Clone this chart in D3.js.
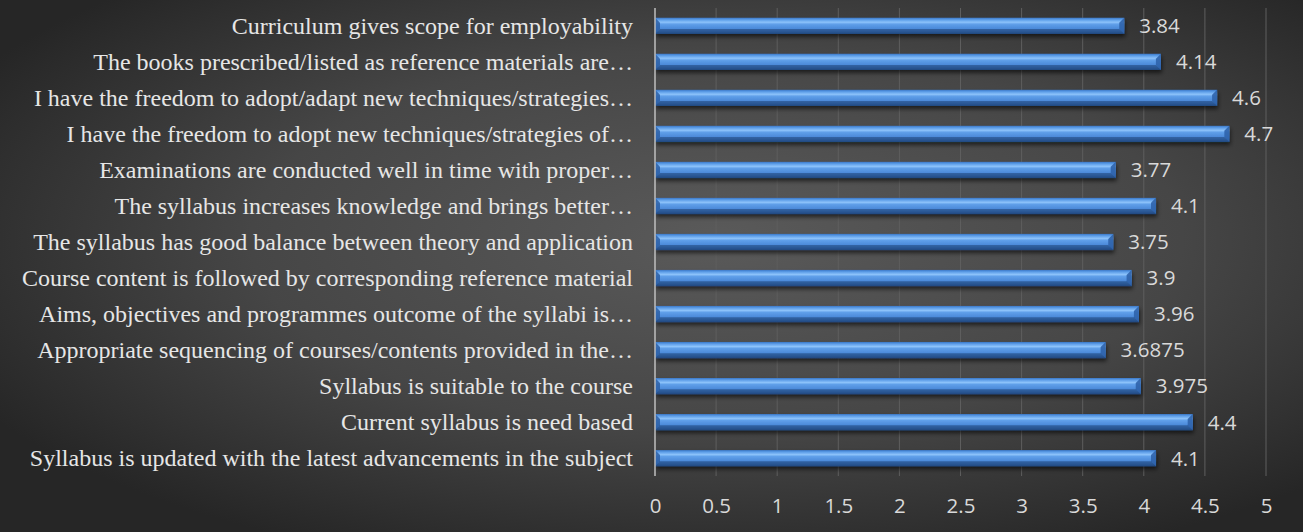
<!DOCTYPE html>
<html>
<head>
<meta charset="utf-8">
<script src="https://cdn.jsdelivr.net/npm/d3@7"></script>
<style>
  html, body { margin: 0; padding: 0; background: #2a2a2a; }
  svg { display: block; }
</style>
</head>
<body>
<div id="chart"></div>
<script>
const categories = [
  "Curriculum gives scope for employability",
  "The books prescribed/listed as reference materials are…",
  "I have the freedom to adopt/adapt new techniques/strategies…",
  "I have the freedom to adopt new techniques/strategies of…",
  "Examinations are conducted well in time with proper…",
  "The syllabus increases knowledge and brings better…",
  "The syllabus has good balance between theory and application",
  "Course content is followed by corresponding reference material",
  "Aims, objectives and programmes outcome of the syllabi is…",
  "Appropriate sequencing of courses/contents provided in the…",
  "Syllabus is suitable to the course",
  "Current syllabus is need based",
  "Syllabus is updated with the latest advancements in the subject"
];
const scores = [3.84, 4.14, 4.6, 4.7, 3.77, 4.1, 3.75, 3.9, 3.96, 3.6875, 3.975, 4.4, 4.1];
const xTicks = [0, 0.5, 1, 1.5, 2, 2.5, 3, 3.5, 4, 4.5, 5];

const width = 1303, height = 532;
const margin = { top: 8, right: 37, bottom: 56, left: 655 };

const svg = d3.select('#chart').append('svg')
  .attr('width', width)
  .attr('height', height);

const defs = svg.append('defs');

// background: radial gray, lighter towards the middle
const bg = defs.append('radialGradient')
  .attr('id', 'bg')
  .attr('cx', '55%').attr('cy', '45%').attr('r', '65%');
bg.append('stop').attr('offset', '0%').attr('stop-color', '#5a5a5a');
bg.append('stop').attr('offset', '55%').attr('stop-color', '#464646');
bg.append('stop').attr('offset', '100%').attr('stop-color', '#262626');

// bar: vertical cylinder-ish gradient
const barGrad = defs.append('linearGradient')
  .attr('id', 'barGrad')
  .attr('x1', 0).attr('y1', 0).attr('x2', 0).attr('y2', 1);
[
  ['0%', '#3a77c6'],
  ['12%', '#5c9de8'],
  ['28%', '#8cc2fa'],
  ['40%', '#5f9fe9'],
  ['70%', '#4a88d8'],
  ['88%', '#3469b2'],
  ['100%', '#234d88']
].forEach(([o, c]) => barGrad.append('stop').attr('offset', o).attr('stop-color', c));

const shadow = defs.append('filter').attr('id', 'shadow')
  .attr('x', '-5%').attr('y', '-50%').attr('width', '110%').attr('height', '250%');
shadow.append('feDropShadow')
  .attr('dx', 1).attr('dy', 3).attr('stdDeviation', 2)
  .attr('flood-color', '#000').attr('flood-opacity', 0.6);

svg.append('rect')
  .attr('width', width).attr('height', height)
  .attr('fill', 'url(#bg)');

const x = d3.scaleLinear()
  .domain([0, 5])
  .range([margin.left, width - margin.right]);

const y = d3.scaleBand()
  .domain(categories)
  .range([margin.top, height - margin.bottom])
  .paddingInner(0.55)
  .paddingOuter(0.27);

// vertical gridlines
svg.append('g')
  .selectAll('line')
  .data(xTicks.slice(1))
  .join('line')
    .attr('x1', d => x(d)).attr('x2', d => x(d))
    .attr('y1', margin.top).attr('y2', height - margin.bottom)
    .attr('stroke', '#5e5e5e').attr('stroke-width', 1);

// x axis tick labels
const xAxis = svg.append('g')
  .attr('transform', `translate(0,${height - margin.bottom})`)
  .call(d3.axisBottom(x).tickValues(xTicks).tickSize(0).tickPadding(22).tickFormat(d3.format('')));
xAxis.select('.domain').remove();
xAxis.selectAll('text')
  .attr('fill', '#d9d9d9')
  .attr('font-family', 'Open Sans, Liberation Sans, sans-serif')
  .attr('font-size', 20.5);

// category labels
const yAxis = svg.append('g')
  .attr('transform', `translate(${margin.left},0)`)
  .call(d3.axisLeft(y).tickSize(0).tickPadding(22));
yAxis.select('.domain').remove();
yAxis.selectAll('text')
  .attr('fill', '#e6e6e6')
  .attr('font-family', 'Liberation Serif, Times New Roman, serif')
  .attr('font-size', 24);

// bars
const bh = y.bandwidth();
const bevel = 5;
const bars = svg.append('g')
  .selectAll('g')
  .data(categories.map((c, i) => ({ cat: c, v: scores[i] })))
  .join('g');

bars.append('rect')
  .attr('x', x(0))
  .attr('y', d => y(d.cat))
  .attr('width', d => x(d.v) - x(0))
  .attr('height', bh)
  .attr('fill', 'url(#barGrad)')
  .attr('filter', 'url(#shadow)');

// left-end bevel
bars.append('path')
  .attr('d', d => {
    const y0 = y(d.cat), x0 = x(0);
    return `M${x0},${y0}L${x0 + bevel},${y0 + bevel}L${x0 + bevel},${y0 + bh - bevel}L${x0},${y0 + bh}Z`;
  })
  .attr('fill', '#2c5fa6').attr('opacity', 0.85);

// right-end bevel
bars.append('path')
  .attr('d', d => {
    const y0 = y(d.cat), x1 = x(d.v);
    return `M${x1},${y0}L${x1 - bevel},${y0 + bevel}L${x1 - bevel},${y0 + bh - bevel}L${x1},${y0 + bh}Z`;
  })
  .attr('fill', '#2f63ab').attr('opacity', 0.9);

// bottom bevel edge, darker
bars.append('path')
  .attr('d', d => {
    const y0 = y(d.cat), x0 = x(0), x1 = x(d.v);
    return `M${x0},${y0 + bh}L${x0 + bevel},${y0 + bh - bevel}L${x1 - bevel},${y0 + bh - bevel}L${x1},${y0 + bh}Z`;
  })
  .attr('fill', '#1f4678').attr('opacity', 0.55);

// value labels
bars.append('text')
  .attr('x', d => x(d.v) + 15)
  .attr('y', d => y(d.cat) + bh / 2)
  .attr('dy', '0.36em')
  .attr('fill', '#d9d9d9')
  .attr('font-family', 'Open Sans, Liberation Sans, sans-serif')
  .attr('font-size', 20.5)
  .text(d => d.v);

// vertical axis line
svg.append('line')
  .attr('x1', x(0)).attr('x2', x(0))
  .attr('y1', margin.top).attr('y2', height - margin.bottom)
  .attr('stroke', '#bfbfbf').attr('stroke-width', 1.5);
</script>
</body>
</html>
